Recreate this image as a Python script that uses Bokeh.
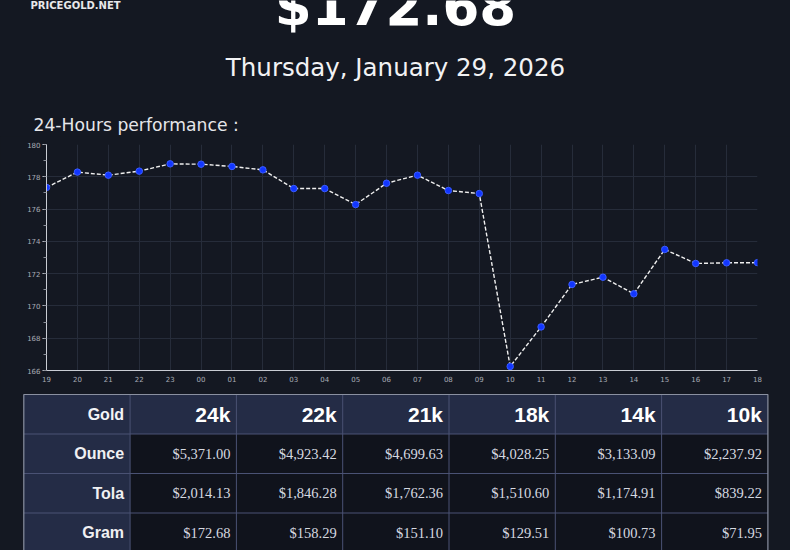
from bokeh.plotting import figure
from bokeh.layouts import column
from bokeh.models import Range1d, FixedTicker, SingleIntervalTicker, ColumnDataSource
from bokeh.core.properties import value
from bokeh.embed import file_html
from bokeh.resources import INLINE

# ---------------- data ----------------
site_name = "PRICEGOLD.NET"
headline_price = "$172.68"
date_text = "Thursday, January 29, 2026"
chart_title = "24-Hours performance :"

hours = ["19", "20", "21", "22", "23", "00", "01", "02", "03", "04", "05", "06",
         "07", "08", "09", "10", "11", "12", "13", "14", "15", "16", "17", "18"]
prices = [177.34, 178.29, 178.10, 178.35, 178.80, 178.78, 178.64, 178.43,
          177.27, 177.27, 176.28, 177.60, 178.10, 177.15, 176.96, 166.25,
          168.70, 171.33, 171.78, 170.75, 173.50, 172.63, 172.67, 172.68]

karats = ["24k", "22k", "21k", "18k", "14k", "10k"]
units = ["Ounce", "Tola", "Gram"]
ounce_prices = [5371.00, 4923.42, 4699.63, 4028.25, 3133.09, 2237.92]
tola_prices = [2014.13, 1846.28, 1762.36, 1510.60, 1174.91, 839.22]
gram_prices = [172.68, 158.29, 151.10, 129.51, 100.73, 71.95]

BG = "#141822"
W = 790
H_HEAD, H_CHART, H_TABLE = 136, 252, 162


def blank(h):
    f = figure(width=W, height=h, x_range=Range1d(0, W), y_range=Range1d(h, 0),
               x_axis_type=None, y_axis_type=None, output_backend="svg",
               toolbar_location=None, min_border=0, frame_align=False)
    f.background_fill_color = BG
    f.border_fill_color = BG
    f.outline_line_color = None
    f.grid.visible = False
    f.styles = {"background-color": BG}
    return f


# ---------------- header ----------------
head = blank(H_HEAD)
head.text(x=[30], y=[5], text=[site_name], text_font=value("DejaVu Sans"),
          text_font_size="10px", text_font_style="bold", text_color="#e8e8ea",
          text_baseline="middle", text_align="left")
head.text(x=[395], y=[5.5], text=[headline_price], text_font=value("DejaVu Sans"),
          text_font_size="53px", text_font_style="bold", text_color="#ffffff",
          text_baseline="middle", text_align="center")
head.text(x=[395], y=[67.3], text=[date_text], text_font=value("DejaVu Sans"),
          text_font_size="24.5px", text_color="#f2f2f4",
          text_baseline="middle", text_align="center")
head.text(x=[33], y=[124.8], text=[chart_title], text_font=value("DejaVu Sans"),
          text_font_size="17.2px", text_color="#e6e6ea",
          text_baseline="middle", text_align="left")

# ---------------- chart ----------------
xs = list(range(len(hours)))
src = ColumnDataSource(dict(x=xs, y=prices))
chart = figure(width=W, height=H_CHART, x_range=Range1d(0, len(hours) - 1),
               y_range=Range1d(166, 180), output_backend="svg",
               toolbar_location=None, min_border_left=46, min_border_right=33,
               min_border_top=8, min_border_bottom=18, frame_align=False)
chart.background_fill_color = BG
chart.border_fill_color = BG
chart.outline_line_color = None
chart.styles = {"background-color": BG}

chart.xaxis.ticker = FixedTicker(ticks=xs, minor_ticks=[])
chart.xaxis.major_label_overrides = {i: h for i, h in enumerate(hours)}
chart.yaxis.ticker = SingleIntervalTicker(interval=2, num_minor_ticks=2)

for ax in (chart.xaxis, chart.yaxis):
    ax.axis_line_color = "#c9ccd4"
    ax.major_tick_line_color = "#c9ccd4"
    ax.minor_tick_line_color = "#8a8e98"
    ax.major_label_text_color = "#a8acb6"
    ax.major_label_text_font = "DejaVu Sans"
    ax.major_label_text_font_size = "7px"
chart.xaxis.major_tick_out = 0
chart.xaxis.major_tick_in = 0
chart.xaxis.major_label_standoff = 5
chart.yaxis.major_tick_out = 4
chart.yaxis.major_tick_in = 0
chart.yaxis.minor_tick_out = 3
chart.yaxis.minor_tick_in = 0
chart.yaxis.major_label_standoff = 2

chart.xgrid.grid_line_color = "#262c3a"
chart.ygrid.grid_line_color = "#262c3a"

chart.line("x", "y", source=src, line_color="#f0f0f0", line_width=1.4, line_dash="4 2")
chart.scatter("x", "y", source=src, size=6.5, fill_color="#1236ff", line_color="#3a5cff",
              line_width=1)

# ---------------- table ----------------
tab = blank(H_TABLE)
x0, cw = 23.3, 106.3
y0, rh = 6.0, 39.5
ncol = len(karats) + 1
nrow = len(units) + 1

HDR = "#242c46"
CELL = "#10131c"
lefts, rights, tops, bottoms, fills = [], [], [], [], []
for r in range(nrow):
    for c in range(ncol):
        lefts.append(x0 + c * cw)
        rights.append(x0 + (c + 1) * cw)
        tops.append(y0 + r * rh)
        bottoms.append(y0 + (r + 1) * rh)
        fills.append(HDR if (r == 0 or c == 0) else CELL)
tab.quad(left=lefts, right=rights, top=tops, bottom=bottoms, fill_color=fills,
         line_color=None)

gx0, gx1, gy0, gy1 = [], [], [], []
for c in range(1, ncol):
    gx0.append(x0 + c * cw); gx1.append(x0 + c * cw)
    gy0.append(y0); gy1.append(y0 + nrow * rh)
for r in range(1, nrow):
    gx0.append(x0); gx1.append(x0 + ncol * cw)
    gy0.append(y0 + r * rh); gy1.append(y0 + r * rh)
tab.segment(x0=gx0, y0=gy0, x1=gx1, y1=gy1, line_color="#4a5274", line_width=1)
tab.quad(left=[x0], right=[x0 + ncol * cw], top=[y0], bottom=[y0 + nrow * rh],
         fill_color=None, line_color="#8a90a0", line_width=1.2)

pad = 6
tab.text(x=[x0 + cw - pad], y=[y0 + rh / 2], text=["Gold"],
         text_font=value("Liberation Sans"), text_font_size="16px",
         text_font_style="bold", text_color="#f4f4f6", text_align="right",
         text_baseline="middle")
tab.text(x=[x0 + (c + 2) * cw - pad for c in range(len(karats))],
         y=[y0 + rh / 2] * len(karats), text=karats,
         text_font=value("Liberation Sans"), text_font_size="21px",
         text_font_style="bold", text_color="#ffffff", text_align="right",
         text_baseline="middle")
tab.text(x=[x0 + cw - pad] * len(units),
         y=[y0 + (r + 1.5) * rh for r in range(len(units))], text=units,
         text_font=value("Liberation Sans"), text_font_size="16px",
         text_font_style="bold", text_color="#f0f0f2", text_align="right",
         text_baseline="middle")
rows = [ounce_prices, tola_prices, gram_prices]
vx, vy, vt = [], [], []
for r, vals in enumerate(rows):
    for c, v in enumerate(vals):
        vx.append(x0 + (c + 2) * cw - pad)
        vy.append(y0 + (r + 1.5) * rh)
        vt.append(f"${v:,.2f}")
tab.text(x=vx, y=vy, text=vt, text_font=value("Liberation Serif"),
         text_font_size="14.5px", text_color="#d6d9e0", text_align="right",
         text_baseline="middle")

layout = column(head, chart, tab, spacing=0, styles={"background-color": BG})
open("out.html", "w").write(file_html(layout, INLINE))
